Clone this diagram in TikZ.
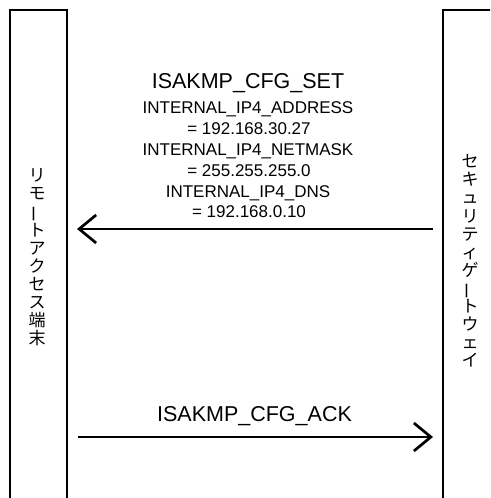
\documentclass[tikz,border=0pt]{standalone}
\usepackage{fontspec}
\setmainfont{Liberation Sans}
\newfontfamily\jpfont{Noto Sans CJK JP}
\usetikzlibrary{arrows.meta}
\newcommand\vchoon{\rotatebox[origin=c]{90}{ー}}
\begin{document}
\begin{tikzpicture}[x=1pt,y=1pt,
  boxline/.style={line width=1.5pt},
  msg/.style={line width=2.7pt, -{Straight Barb[length=17pt,width=28pt]}},
  msgtitle/.style={font=\fontsize{21.5}{25}\selectfont, anchor=base, inner sep=0pt},
  param/.style={font=\fontsize{17}{20}\selectfont, anchor=base, inner sep=0pt},
  vtext/.style={font=\jpfont\fontsize{17}{18.1}\selectfont, align=center, inner sep=0pt}]
\useasboundingbox (0,0) rectangle (490,498);
\begin{scope}
  \clip (0,0) rectangle (490,498);
  \draw[boxline] (10,-5) -- (10,488) -- (67,488) -- (67,-5);
  \draw[boxline] (443,-5) -- (443,488) -- (500,488) -- (500,-5);
\end{scope}
\node[vtext] (rt) at (37,240.5) {リ\\モ\\\vchoon\\ト\\ア\\ク\\セ\\ス\\端\\末};
\node[vtext] (gw) at (470,237) {セ\\キ\\ュ\\リ\\テ\\ィ\\ゲ\\\vchoon\\ト\\ウ\\ェ\\イ};
\coordinate (gwOut) at (433,269);
\coordinate (rtIn) at (77,269);
\coordinate (rtOut) at (78,61);
\coordinate (gwIn) at (433,61);
\draw[msg] (gwOut) -- (rtIn);
\draw[msg] (rtOut) -- (gwIn);
\node[msgtitle] (set) at (248,409) {ISAKMP\_CFG\_SET};
\node[param] (p1) at (248,384) {INTERNAL\_IP4\_ADDRESS};
\node[param] (p2) at (249,363.2) {= 192.168.30.27};
\node[param] (p3) at (248,342.4) {INTERNAL\_IP4\_NETMASK};
\node[param] (p4) at (249,321.6) {= 255.255.255.0};
\node[param] (p5) at (248,300.8) {INTERNAL\_IP4\_DNS};
\node[param] (p6) at (249,280) {= 192.168.0.10};
\node[msgtitle] (ack) at (254.5,76) {ISAKMP\_CFG\_ACK};
\end{tikzpicture}
\end{document}
